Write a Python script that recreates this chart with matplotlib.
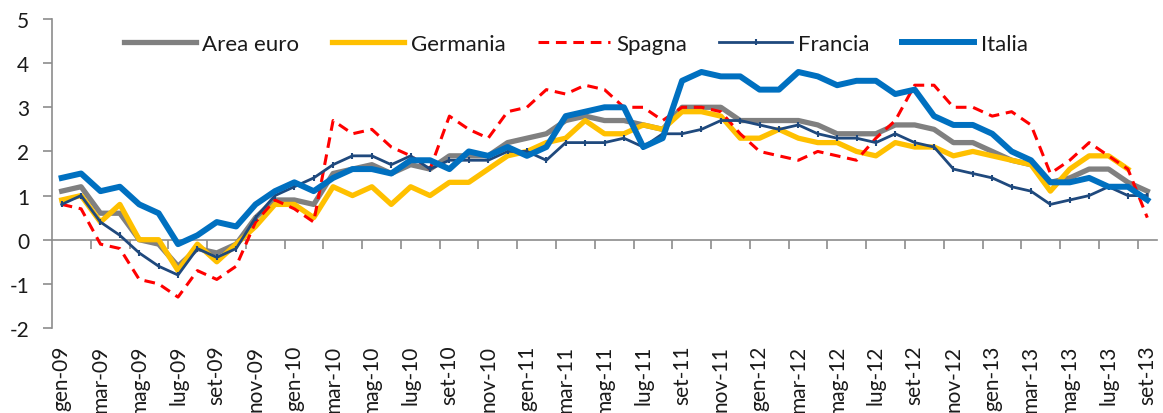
import numpy as np
import matplotlib
matplotlib.use("Agg")
from matplotlib import pyplot as plt

plt.rcParams['font.family'] = ['Lato', 'DejaVu Sans']

mesi = ["gen", "feb", "mar", "apr", "mag", "giu", "lug", "ago", "set", "ott", "nov", "dic"]
categorie = [m + "-" + a for a in ["09", "10", "11", "12", "13"] for m in mesi][:57]

area_euro = [1.1, 1.2, 0.6, 0.6, 0.0, -0.1, -0.6, -0.2, -0.3, -0.1, 0.5, 0.9,
             0.9, 0.8, 1.5, 1.6, 1.7, 1.5, 1.7, 1.6, 1.9, 1.9, 1.9, 2.2,
             2.3, 2.4, 2.7, 2.8, 2.7, 2.7, 2.6, 2.5, 3.0, 3.0, 3.0, 2.7,
             2.7, 2.7, 2.7, 2.6, 2.4, 2.4, 2.4, 2.6, 2.6, 2.5, 2.2, 2.2,
             2.0, 1.8, 1.7, 1.3, 1.4, 1.6, 1.6, 1.3, 1.1]
germania = [0.9, 1.0, 0.4, 0.8, 0.0, 0.0, -0.7, -0.1, -0.5, -0.1, 0.3, 0.8,
            0.8, 0.5, 1.2, 1.0, 1.2, 0.8, 1.2, 1.0, 1.3, 1.3, 1.6, 1.9,
            2.0, 2.2, 2.3, 2.7, 2.4, 2.4, 2.6, 2.5, 2.9, 2.9, 2.8, 2.3,
            2.3, 2.5, 2.3, 2.2, 2.2, 2.0, 1.9, 2.2, 2.1, 2.1, 1.9, 2.0,
            1.9, 1.8, 1.7, 1.1, 1.6, 1.9, 1.9, 1.6, np.nan]
spagna = [0.8, 0.7, -0.1, -0.2, -0.9, -1.0, -1.3, -0.7, -0.9, -0.6, 0.4, 0.9,
          0.7, 0.4, 2.7, 2.4, 2.5, 2.1, 1.9, 1.6, 2.8, 2.5, 2.3, 2.9,
          3.0, 3.4, 3.3, 3.5, 3.4, 3.0, 3.0, 2.7, 3.0, 3.0, 2.9, 2.4,
          2.0, 1.9, 1.8, 2.0, 1.9, 1.8, 2.3, 2.7, 3.5, 3.5, 3.0, 3.0,
          2.8, 2.9, 2.6, 1.5, 1.8, 2.2, 1.9, 1.6, 0.5]
francia = [0.8, 1.0, 0.4, 0.1, -0.3, -0.6, -0.8, -0.2, -0.4, -0.2, 0.5, 1.0,
           1.2, 1.4, 1.7, 1.9, 1.9, 1.7, 1.9, 1.6, 1.8, 1.8, 1.8, 2.0,
           2.0, 1.8, 2.2, 2.2, 2.2, 2.3, 2.1, 2.4, 2.4, 2.5, 2.7, 2.7,
           2.6, 2.5, 2.6, 2.4, 2.3, 2.3, 2.2, 2.4, 2.2, 2.1, 1.6, 1.5,
           1.4, 1.2, 1.1, 0.8, 0.9, 1.0, 1.2, 1.0, 1.0]
italia = [1.4, 1.5, 1.1, 1.2, 0.8, 0.6, -0.1, 0.1, 0.4, 0.3, 0.8, 1.1,
          1.3, 1.1, 1.4, 1.6, 1.6, 1.5, 1.8, 1.8, 1.6, 2.0, 1.9, 2.1,
          1.9, 2.1, 2.8, 2.9, 3.0, 3.0, 2.1, 2.3, 3.6, 3.8, 3.7, 3.7,
          3.4, 3.4, 3.8, 3.7, 3.5, 3.6, 3.6, 3.3, 3.4, 2.8, 2.6, 2.6,
          2.4, 2.0, 1.8, 1.3, 1.3, 1.4, 1.2, 1.2, 0.9]
y_ticks = list(range(-2, 6))

x = np.arange(len(categorie))
col_asse = "#8c8c8c"

fig = plt.figure(figsize=(11.63, 4.14), dpi=100)
ax = fig.add_axes([52 / 1163, 1 - 329 / 414, 1105 / 1163, 309 / 414])

ax.plot(x, area_euro, color="#808080", lw=3.8, label="Area euro", solid_joinstyle="round")
ax.plot(x, germania, color="#FFC000", lw=3.8, label="Germania", solid_joinstyle="round")
ax.plot(x, spagna, color="#FF0000", lw=2.2, ls=(0, (3.5, 2.2)), label="Spagna")
ax.plot(x, francia, color="#1F497D", lw=2.0, marker="|", ms=5, mew=1.5, label="Francia")
ax.plot(x, italia, color="#0070C0", lw=4.3, label="Italia", solid_joinstyle="round")

ax.set_xlim(-0.5, len(x) - 0.5)
ax.set_ylim(-2, 5)
ax.set_yticks(y_ticks)
ax.set_yticklabels([str(v) for v in y_ticks])
ax.tick_params(axis="y", direction="out", length=6.5, width=1.2, color=col_asse,
               labelsize=15, pad=10, labelcolor="#1a1a1a")

# etichette mesi ogni 2 mesi, in basso
ax.set_xticks(x[::2])
ax.set_xticklabels(categorie[::2], rotation=90, fontsize=15, color="#1a1a1a")
ax.tick_params(axis="x", length=0, pad=12)

for s in ["top", "right", "bottom"]:
    ax.spines[s].set_visible(False)
ax.spines["left"].set_color(col_asse)
ax.spines["left"].set_linewidth(1.2)

# asse orizzontale sullo zero con tacche tra le categorie
asse0 = ax.secondary_xaxis(2 / 7)
asse0.set_xticks(np.arange(1.5, len(x) - 1, 2))
asse0.set_xticklabels([])
asse0.tick_params(direction="out", length=6.5, width=1.2, color=col_asse)
asse0.spines["bottom"].set_color(col_asse)
asse0.spines["bottom"].set_linewidth(1.2)

ax.legend(loc="center", bbox_to_anchor=(0.474, 0.92), ncol=5, frameon=False,
          fontsize=16, handlelength=3.25, handletextpad=0.3, columnspacing=1.45,
          labelcolor="#1a1a1a")

fig.savefig("out.png", dpi=100)
